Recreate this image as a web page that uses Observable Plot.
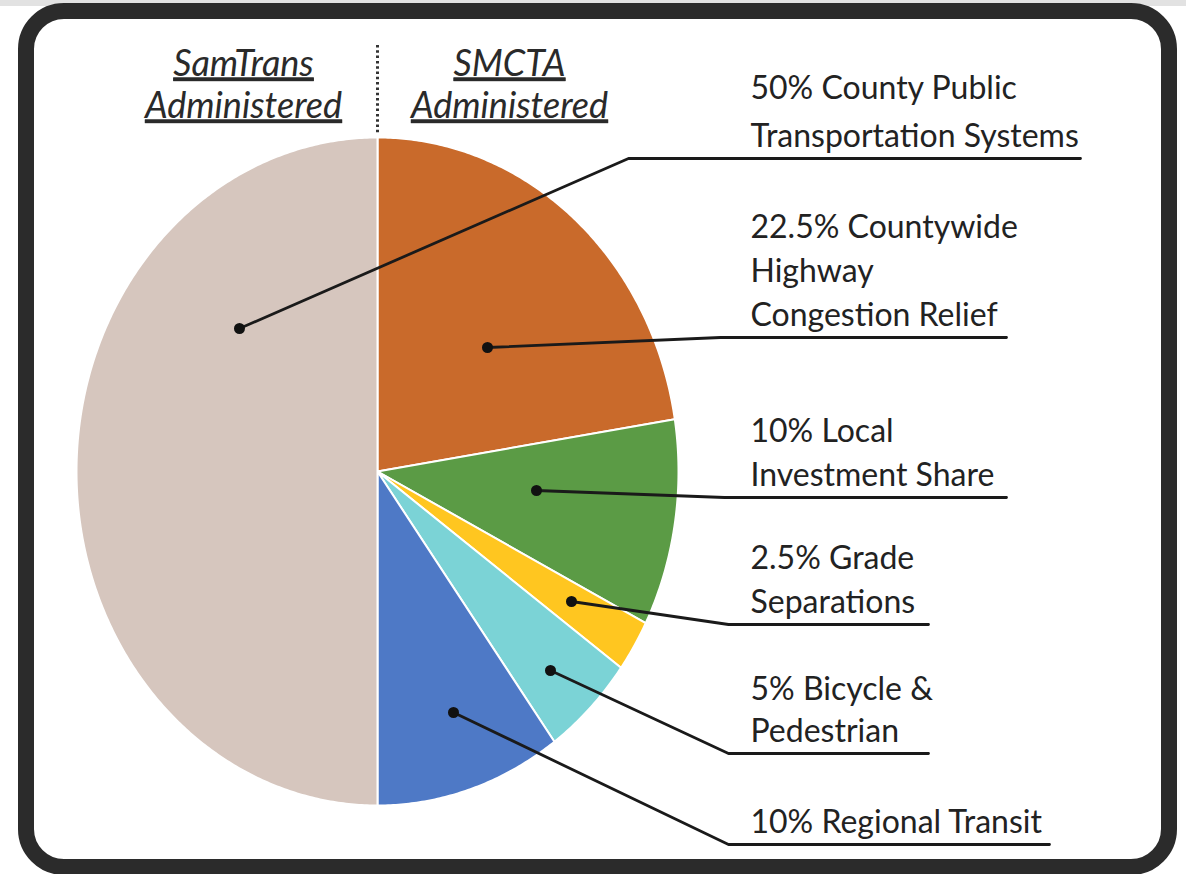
<!DOCTYPE html>
<html><head><meta charset="utf-8">
<script src="https://cdn.jsdelivr.net/npm/d3@7"></script>
<script src="https://cdn.jsdelivr.net/npm/@observablehq/plot@0.6"></script>
<style>
html,body{margin:0;padding:0;background:#fff;}
#wrap{position:relative;width:1186px;height:874px;overflow:hidden;}
#topstrip{position:absolute;left:0;top:0;width:1186px;height:6px;background:#e2e2e2;}
#frame{position:absolute;left:18px;top:3px;width:1159px;height:872px;box-sizing:border-box;border:16px solid #2b2b2b;border-radius:46px;pointer-events:none;z-index:2;}
#chart{position:absolute;left:0;top:0;z-index:1;}
</style></head><body>
<div id="wrap"><div id="topstrip"></div><div id="chart"></div><div id="frame"></div></div>
<script>
// ---- data (clockwise from 12 o'clock) ----
const categories = ["Countywide Highway Congestion Relief", "Local Investment Share", "Grade Separations", "Bicycle & Pedestrian", "Regional Transit", "County Public Transportation Systems"];
const shares = [22.5, 10, 2.5, 5, 10, 50];
const sliceColors = ["#C96A2B", "#5B9B45", "#FFC620", "#7BD3D6", "#4E79C6", "#D6C6BE"];
const labelTexts = [
  "22.5% Countywide\nHighway\nCongestion Relief",
  "10% Local\nInvestment Share",
  "2.5% Grade\nSeparations",
  "5% Bicycle &\nPedestrian",
  "10% Regional Transit",
  "50% County Public\nTransportation Systems"
];
const headerTexts = ["SamTrans\nAdministered", "SMCTA\nAdministered"];

// ---- layout ----
const pie = {cx: 377, cy: 471, rx: 301, ry: 334};
const dotPos = [[487, 347], [536, 490], [571, 601], [550, 670], [453, 712], [239, 328]];
const elbowX = [720, 724, 728, 728, 728, 628];
const underlineY = [337, 497, 624, 753, 844, 158];
const underlineEnd = [1006, 1006, 928, 928, 1049, 1080];
const labelLH = [1.375, 1.35, 1.375, 1.31, 1.3, 1.47];
const labelX = 750;
const headerX = [243, 509];
const headerY = 117;

// ---- build geometry ----
const arcs = d3.pie().sort(null).startAngle(0).endAngle(2 * Math.PI)(shares);
const slicePts = [];
arcs.forEach((a, i) => {
  slicePts.push({cat: categories[i], x: pie.cx, y: pie.cy});
  const n = Math.max(2, Math.ceil((a.endAngle - a.startAngle) / (Math.PI / 360)));
  for (let k = 0; k <= n; k++) {
    const t = a.startAngle + (a.endAngle - a.startAngle) * k / n;
    slicePts.push({cat: categories[i], x: pie.cx + pie.rx * Math.sin(t), y: pie.cy - pie.ry * Math.cos(t)});
  }
});
const dots = categories.map((c, i) => ({cat: c, x: dotPos[i][0], y: dotPos[i][1]}));
const leaders = [];
categories.forEach((c, i) => {
  leaders.push({id: c, x: dotPos[i][0], y: dotPos[i][1]});
  leaders.push({id: c, x: elbowX[i], y: underlineY[i]});
  leaders.push({id: c, x: underlineEnd[i], y: underlineY[i]});
});

const textColor = "#222";
const font = "Lato, 'Open Sans', sans-serif";

const labelMarks = labelTexts.map((t, i) => Plot.text([{t, x: labelX, y: underlineY[i] - 12}], {
  x: "x", y: "y", text: "t", textAnchor: "start", lineAnchor: "bottom",
  lineHeight: labelLH[i], fontSize: 32, fill: textColor, fontFamily: font
}));

const plot = Plot.plot({
  width: 1186, height: 874, margin: 0,
  style: {background: "transparent", fontFamily: font},
  x: {domain: [0, 1186], range: [0, 1186], axis: null},
  y: {domain: [0, 874], range: [0, 874], axis: null},
  color: {domain: categories, range: sliceColors},
  marks: [
    Plot.line(slicePts, {x: "x", y: "y", z: "cat", fill: "cat", stroke: "white", strokeWidth: 2, curve: "linear-closed"}),
    Plot.ruleX([pie.cx], {y1: 45, y2: 134, stroke: "#333", strokeWidth: 3, strokeDasharray: "2.5,2.8"}),
    Plot.line(leaders, {x: "x", y: "y", z: "id", stroke: "#1a1a1a", strokeWidth: 2.8}),
    Plot.dot(dots, {x: "x", y: "y", r: 5.5, fill: "#111", stroke: null}),
    ...labelMarks,
    Plot.text(headerTexts.map((t, i) => ({t, x: headerX[i], y: headerY})), {
      x: "x", y: "y", text: "t", textAnchor: "middle", lineAnchor: "bottom",
      lineHeight: 1.167, fontSize: 36, fontStyle: "italic", fill: "#2a2a2a", fontFamily: font
    })
  ]
});
plot.querySelectorAll('g[font-style="italic"] text, g[font-style="italic"] tspan').forEach(el => {
  el.style.textDecoration = "underline";
});
document.getElementById("chart").appendChild(plot);
</script>
</body></html>
